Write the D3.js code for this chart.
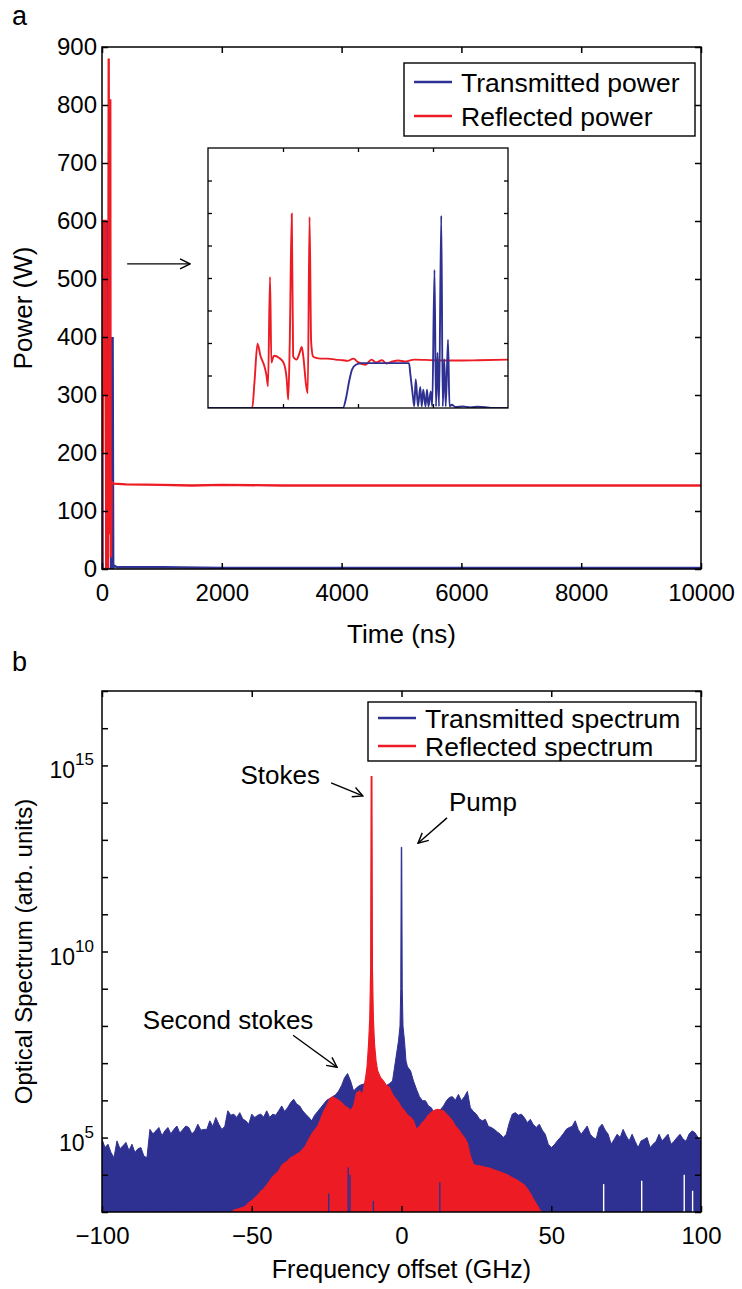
<!DOCTYPE html>
<html>
<head>
<meta charset="utf-8">
<script src="https://cdn.jsdelivr.net/npm/d3@7"></script>
<style>
    body { margin: 0; background: #fff; }
    text { font-family: "Liberation Sans", Arial, Helvetica, sans-serif; fill: #000; }
</style>
</head>
<body>
<div id="chart"></div>
<script>

// ---- panel a : power vs time ----
const timeTicks = [0, 2000, 4000, 6000, 8000, 10000];
const powerTicks = [0, 100, 200, 300, 400, 500, 600, 700, 800, 900];

// [time (ns), power (W)]
const transPower = [[0, 0], [4, 600], [10, 0], [70, 0], [76, 598], [90, 598], [95, 0], [150, 0], [158, 400],
    [168, 80], [178, 400], [188, 0], [200, 6], [250, 3], [500, 3], [1000, 3], [2000, 2], [4000, 2],
    [6000, 2], [8000, 2], [10000, 2]];
const reflPower = [[0, 0], [3, 600], [14, 600], [18, 200], [24, 600], [36, 600], [42, 300], [50, 600],
    [62, 600], [70, 0], [100, 0], [112, 880], [122, 60], [132, 150], [138, 810], [144, 160], [150, 20],
    [160, 150], [200, 147], [400, 146], [1000, 145], [1500, 144], [2000, 145], [3000, 144], [4000, 144],
    [5000, 144], [6000, 144], [7000, 144], [8000, 144], [9000, 144], [10000, 144]];

// inset (no labels), arbitrary units
const insetTimeTicks = [100, 200, 300];
const insetPowerTicks = [100, 200, 300, 400, 500, 600, 700];
const insetRefl = [[0, 0], [59, 0], [62, 80], [66, 198], [70, 160], [75, 130], [78, 100], [80, 67],
    [82.7, 403], [84.5, 140], [86, 150], [88, 161], [95, 154], [101, 138], [105, 87], [107, 26],
    [109, 200], [111.7, 598], [113.5, 159], [118, 149], [122, 169], [125, 188], [127, 160], [131, 67],
    [133, 46], [135.4, 588], [137.5, 205], [140, 159], [144, 154], [150, 152], [160, 152], [170, 149],
    [180, 147], [186, 145], [194, 152], [200, 141], [210, 133], [218, 149], [224, 140], [232, 147],
    [238, 137], [246, 143], [254, 146], [262, 143], [275, 149], [300, 147], [330, 146], [360, 147],
    [400, 149]];
const insetTrans = [[0, 0], [180, 0], [184, 30], [188, 80], [192, 118], [197, 133], [205, 138], [268, 138],
    [270, 100], [273, 40], [275, 5], [277, 89], [280, 5], [283, 65], [285, 5], [287, 56], [290, 5],
    [292, 56], [294, 5], [297, 51], [299, 5], [302, 425], [304, 5], [306, 170], [308, 5], [311, 592],
    [313, 5], [315, 150], [317, 5], [320, 210], [322, 5], [325, 10], [330, 3], [340, 5], [350, 2],
    [360, 4], [372, 2], [380, 0], [400, 0]];

// ---- panel b : spectra, [frequency (GHz), log10 level] ----
const freqTicks = [-100, -50, 0, 50, 100];
const specDecades = d3.range(3, 18);
const specLabelExps = [5, 10, 15];

const transSpectrum = [[-100, 4.96], [-99, 4.73], [-98, 4.82], [-97, 4.6], [-96, 4.46], [-95, 4.91], [-94, 4.7],
    [-93, 4.78], [-92, 4.87], [-91, 4.65], [-90, 4.82], [-89, 4.6], [-88, 4.7], [-87, 4.73], [-86, 4.5],
    [-85, 4.46], [-84, 5.22], [-83, 5.1], [-82, 5.18], [-81, 5.27], [-80, 5.05], [-79, 5.18], [-78, 5.27],
    [-77, 5.1], [-76, 5.22], [-75, 5.31], [-74, 5.12], [-73, 5.22], [-72, 5.31], [-71, 5.27], [-70, 5.1],
    [-69, 5.18], [-68, 5.36], [-67, 5.2], [-66, 5.22], [-65, 5.22], [-64, 5.45], [-63, 5.3], [-62, 5.54],
    [-61, 5.36], [-60, 5.22], [-59, 5.3], [-58, 5.72], [-57, 5.6], [-56, 5.63], [-55, 5.54], [-54, 5.67],
    [-53, 5.5], [-52, 5.45], [-51, 5.36], [-50, 5.63], [-49, 5.54], [-48, 5.6], [-47, 5.63], [-46, 5.55],
    [-45, 5.72], [-44, 5.54], [-43, 5.63], [-42, 5.6], [-41, 5.72], [-40, 5.85], [-39, 5.7], [-38, 5.81],
    [-37, 5.94], [-36, 6.03], [-35, 5.9], [-34, 5.85], [-33, 5.72], [-32, 5.63], [-31, 5.55], [-30, 5.45],
    [-29, 5.6], [-28, 5.7], [-27, 5.8], [-26, 5.9], [-25, 6.0], [-24, 6.05], [-23, 6.1], [-22, 6.15],
    [-21, 6.25], [-20, 6.4], [-19, 6.61], [-18, 6.72], [-17, 6.52], [-16, 6.25], [-15, 6.34], [-14, 6.4],
    [-13, 6.43], [-12, 6.45], [-11, 6.5], [-10, 6.5], [-9, 6.45], [-8, 6.4], [-7, 6.35], [-6, 6.34],
    [-5, 6.4], [-4, 6.45], [-3, 6.52], [-2, 7.06], [-1, 7.6], [-0.5, 8.0], [-0.25, 9.0], [-0.08, 12.8],
    [0.08, 12.8], [0.25, 9.0], [0.5, 8.0], [1, 7.6], [1.5, 7.06], [2, 6.9], [3, 6.8], [4, 6.52], [5, 6.3],
    [6, 6.1], [7, 5.99], [8, 5.99], [9, 5.85], [10, 5.8], [11, 5.63], [12, 5.7], [13, 5.75], [14, 5.85],
    [15, 5.99], [16, 6.08], [17, 6.1], [18, 6.0], [19, 6.16], [20, 5.99], [21, 6.1], [22, 6.24], [23, 5.8],
    [24, 5.7], [25, 5.63], [26, 5.5], [27, 5.45], [28, 5.49], [29, 5.3], [30, 5.27], [31, 5.22], [32, 5.15],
    [33, 5.09], [34, 5.0], [35, 5.09], [36, 5.4], [37, 5.63], [38, 5.67], [39, 5.6], [40, 5.63], [41, 5.54],
    [42, 5.4], [43, 5.49], [44, 5.35], [45, 5.27], [46, 5.36], [47, 5.2], [48, 5.09], [49, 4.82], [50, 4.73],
    [51, 4.8], [52, 4.91], [53, 5.0], [54, 5.1], [55, 5.22], [56, 5.27], [57, 5.3], [58, 5.45], [59, 5.22],
    [60, 5.09], [61, 5.2], [62, 5.31], [63, 5.09], [64, 5.0], [65, 4.96], [66, 5.27], [67, 5.36], [68, 5.2],
    [69, 5.09], [70, 4.82], [71, 4.95], [72, 5.09], [73, 5.0], [74, 5.22], [75, 5.05], [76, 4.91], [77, 5.09],
    [78, 4.9], [79, 4.73], [80, 4.91], [81, 4.95], [82, 5.0], [83, 4.73], [84, 4.82], [85, 4.9], [86, 5.09],
    [87, 4.91], [88, 5.0], [89, 5.09], [90, 4.82], [91, 4.9], [92, 5.0], [93, 5.09], [94, 4.96], [95, 4.9],
    [96, 5.09], [97, 5.18], [98, 5.13], [99, 5.0], [100, 4.91]];

const reflSpectrum = [[-57, 2.9], [-56, 3.05], [-55, 3.07], [-54, 3.1], [-53, 3.12], [-52, 3.16], [-51, 3.25],
    [-50, 3.3], [-49, 3.38], [-48, 3.45], [-47, 3.55], [-46, 3.62], [-45, 3.72], [-44, 3.84], [-43, 3.95],
    [-42, 4.02], [-41, 4.1], [-40, 4.25], [-39, 4.32], [-38, 4.37], [-37, 4.46], [-36, 4.5], [-35, 4.55],
    [-34, 4.6], [-33, 4.68], [-32, 4.78], [-31, 4.95], [-30, 5.09], [-29, 5.2], [-28, 5.3], [-27, 5.49],
    [-26, 5.7], [-25, 5.85], [-24, 6.03], [-23, 6.09], [-22, 6.05], [-21, 6.0], [-20, 5.94], [-19, 5.85],
    [-18, 5.8], [-17, 5.72], [-16, 5.85], [-15, 6.2], [-14, 6.25], [-13, 6.16], [-12, 6.6], [-11.5, 6.9],
    [-11, 7.5], [-10.6, 8.2], [-10.3, 9.5], [-10.12, 14.7], [-9.88, 14.7], [-9.7, 9.5], [-9.4, 8.2],
    [-9, 7.5], [-8.5, 7.06], [-8, 6.8], [-7, 6.61], [-6, 6.52], [-5, 6.4], [-4, 6.34], [-3, 6.16], [-2, 6.05],
    [-1, 5.95], [0, 5.8], [1, 5.72], [2, 5.6], [3, 5.55], [4, 5.45], [5, 5.22], [6, 5.3], [7, 5.4], [8, 5.49],
    [9, 5.6], [10, 5.68], [11, 5.73], [12, 5.76], [13, 5.74], [14, 5.72], [15, 5.63], [16, 5.55], [17, 5.45],
    [18, 5.31], [19, 5.22], [20, 5.1], [21, 5.0], [22, 4.85], [23, 4.5], [24, 4.28], [25, 4.24], [26, 4.24],
    [27, 4.22], [28, 4.2], [29, 4.19], [30, 4.16], [31, 4.13], [32, 4.1], [33, 4.07], [34, 4.04], [35, 4.01],
    [36, 3.97], [37, 3.92], [38, 3.88], [39, 3.83], [40, 3.78], [41, 3.72], [42, 3.62], [43, 3.5], [44, 3.35],
    [45, 3.22], [46, 3.08], [47, 2.95]];

// narrow spots where the trace floor lifts above the axis: [frequency, top of gap (log10)]
const transGaps = [[67.5, 3.75], [80.2, 3.84], [94.4, 4.0], [97.2, 3.57]];
const reflGaps = [[-24.3, 3.5], [-17.8, 4.2], [-17.2, 4.0], [-9.4, 3.3], [12.8, 3.8]];

const BLUE = "#2e3192", RED = "#ed1c24";
const FONT = "'Liberation Sans', Arial, Helvetica, sans-serif";

const svg = d3.select("#chart").append("svg")
    .attr("width", 742)
    .attr("height", 1289);
svg.append("rect").attr("width", 742).attr("height", 1289).attr("fill", "#fff");

let defs = svg.append("defs");
defs.append("marker")
    .attr("id", "arrow")
    .attr("viewBox", "0 0 12 12")
    .attr("refX", 11).attr("refY", 6)
    .attr("markerWidth", 12).attr("markerHeight", 12)
    .attr("markerUnits", "userSpaceOnUse")
    .attr("orient", "auto")
    .append("path")
    .attr("d", "M1,1 L11,6 L1,11")
    .attr("fill", "none")
    .attr("stroke", "#000")
    .attr("stroke-width", 1.4);

// draws box with inward ticks on all four sides
function drawFrame(g, x, y, w, h, xt, yt, opt) {
    let tick = opt.tick;
    let bottom = g.append("g").attr("transform", `translate(0,${h})`)
        .call(d3.axisBottom(x).tickValues(xt).tickSizeInner(-tick).tickSizeOuter(0)
            .tickPadding(opt.xPad || 0).tickFormat(opt.xFormat || ""));
    let top = g.append("g")
        .call(d3.axisTop(x).tickValues(xt).tickSizeInner(-tick).tickSizeOuter(0).tickFormat(""));
    let left = g.append("g")
        .call(d3.axisLeft(y).tickValues(yt).tickSizeInner(-tick).tickSizeOuter(0)
            .tickPadding(opt.yPad || 0).tickFormat(opt.yFormat || ""));
    let right = g.append("g").attr("transform", `translate(${w},0)`)
        .call(d3.axisRight(y).tickValues(yt).tickSizeInner(-tick).tickSizeOuter(0).tickFormat(""));
    [bottom, top, left, right].forEach(a => {
        a.select(".domain").remove();
        a.selectAll("line").attr("stroke", "#000").attr("stroke-width", opt.lw);
        a.attr("font-family", FONT).attr("font-size", opt.fs || 22);
    });
    g.append("rect")
        .attr("width", w).attr("height", h)
        .attr("fill", "none").attr("stroke", "#000").attr("stroke-width", opt.lw);
    return {bottom, left};
}

function drawLegend(g, x, y, w, h, items, rowY) {
    let lg = g.append("g").attr("transform", `translate(${x},${y})`);
    lg.append("rect").attr("width", w).attr("height", h)
        .attr("fill", "#fff").attr("stroke", "#000").attr("stroke-width", 1.4);
    items.forEach((d, i) => {
        lg.append("line")
            .attr("x1", 10).attr("x2", 48)
            .attr("y1", rowY[i]).attr("y2", rowY[i])
            .attr("stroke", d.color).attr("stroke-width", 2.4);
        lg.append("text")
            .attr("x", 57).attr("y", rowY[i])
            .attr("dy", "0.36em")
            .attr("font-size", 26.5)
            .text(d.label);
    });
}

/* ---------- panel a ---------- */
const plotLeft = 102, plotWidth = 599;
const aTop = 47, aHeight = 522;

let ga = svg.append("g").attr("transform", `translate(${plotLeft},${aTop})`);
let xa = d3.scaleLinear().domain([0, 10000]).range([0, plotWidth]);
let ya = d3.scaleLinear().domain([0, 900]).range([aHeight, 0]);

defs.append("clipPath").attr("id", "clipA")
    .append("rect").attr("width", plotWidth).attr("height", aHeight);

let lineA = d3.line().x(d => xa(d[0])).y(d => ya(d[1]));
let linesA = ga.append("g").attr("clip-path", "url(#clipA)");
linesA.append("path").datum(transPower).attr("d", lineA)
    .attr("fill", "none").attr("stroke", BLUE).attr("stroke-width", 2.3);
linesA.append("path").datum(reflPower).attr("d", lineA)
    .attr("fill", "none").attr("stroke", RED).attr("stroke-width", 2.3);

drawFrame(ga, xa, ya, plotWidth, aHeight, timeTicks, powerTicks,
    {tick: 6, lw: 1.5, xPad: 15, yPad: 5, xFormat: d3.format("d"), yFormat: d3.format("d"), fs: 24});

drawLegend(ga, 302, 16, 291, 73,
    [{label: "Transmitted power", color: BLUE}, {label: "Reflected power", color: RED}], [19, 53]);

// arrow towards the inset
ga.append("line")
    .attr("x1", xa(420)).attr("y1", ya(526))
    .attr("x2", xa(1470)).attr("y2", ya(526))
    .attr("stroke", "#000").attr("stroke-width", 1.4)
    .attr("marker-end", "url(#arrow)");

// inset
const insetX = 106, insetY = 101, insetW = 300, insetH = 260;
let gi = ga.append("g").attr("transform", `translate(${insetX},${insetY})`);
gi.append("rect").attr("width", insetW).attr("height", insetH).attr("fill", "#fff");
let xi = d3.scaleLinear().domain([0, 400]).range([0, insetW]);
let yi = d3.scaleLinear().domain([0, 800]).range([insetH, 0]);
defs.append("clipPath").attr("id", "clipI")
    .append("rect").attr("width", insetW).attr("height", insetH);
let lineI = d3.line().curve(d3.curveMonotoneX).x(d => xi(d[0])).y(d => yi(d[1]));
let linesI = gi.append("g").attr("clip-path", "url(#clipI)");
linesI.append("path").datum(insetRefl).attr("d", lineI)
    .attr("fill", "none").attr("stroke", RED).attr("stroke-width", 1.9);
linesI.append("path").datum(insetTrans).attr("d", lineI)
    .attr("fill", "none").attr("stroke", BLUE).attr("stroke-width", 1.9);
drawFrame(gi, xi, yi, insetW, insetH, insetTimeTicks, insetPowerTicks, {tick: 4, lw: 1.3});

ga.append("text")
    .attr("x", plotWidth / 2).attr("y", 596)
    .attr("text-anchor", "middle").attr("font-size", 26)
    .text("Time (ns)");
ga.append("text")
    .attr("transform", `translate(${32 - plotLeft},${aHeight / 2}) rotate(-90)`)
    .attr("text-anchor", "middle").attr("font-size", 26)
    .text("Power (W)");
svg.append("text").attr("x", 12).attr("y", 25).attr("font-size", 27).text("a");

/* ---------- panel b ---------- */
const bTop = 691, bHeight = 521;
let gb = svg.append("g").attr("transform", `translate(${plotLeft},${bTop})`);
let xb = d3.scaleLinear().domain([-100, 100]).range([0, plotWidth]);
let yb = d3.scaleLog().domain([1e3, 1e17]).range([bHeight, 0]);

defs.append("clipPath").attr("id", "clipB")
    .append("rect").attr("width", plotWidth).attr("height", bHeight);

let areaB = d3.area()
    .x(d => xb(d[0]))
    .y0(bHeight)
    .y1(d => yb(Math.pow(10, d[1])));

let specG = gb.append("g").attr("clip-path", "url(#clipB)");
specG.append("path").datum(transSpectrum).attr("d", areaB)
    .attr("fill", BLUE).attr("stroke", BLUE).attr("stroke-width", 1);
specG.selectAll(".tgap").data(transGaps).join("rect")
    .attr("class", "tgap")
    .attr("x", d => xb(d[0]) - 0.7).attr("width", 1.4)
    .attr("y", d => yb(Math.pow(10, d[1])))
    .attr("height", d => bHeight - yb(Math.pow(10, d[1])))
    .attr("fill", "#fff");
specG.append("path").datum(reflSpectrum).attr("d", areaB)
    .attr("fill", RED).attr("stroke", RED).attr("stroke-width", 1.2);
specG.selectAll(".rgap").data(reflGaps).join("rect")
    .attr("class", "rgap")
    .attr("x", d => xb(d[0]) - 0.7).attr("width", 1.4)
    .attr("y", d => yb(Math.pow(10, d[1])))
    .attr("height", d => bHeight - yb(Math.pow(10, d[1])))
    .attr("fill", BLUE);

drawFrame(gb, xb, yb, plotWidth, bHeight, freqTicks, specDecades.map(e => Math.pow(10, e)),
    {tick: 6, lw: 1.5, xPad: 15, xFormat: d3.format("d"), fs: 24});

gb.selectAll(".ylab").data(specLabelExps).join("text")
    .attr("class", "ylab")
    .attr("x", -8)
    .attr("y", d => yb(Math.pow(10, d)) + 13)
    .attr("text-anchor", "end")
    .attr("font-size", 23)
    .each(function (d) {
        let t = d3.select(this);
        t.append("tspan").text("10");
        t.append("tspan").attr("dy", -13).attr("font-size", 17).text(d);
    });

drawLegend(gb, 266, 11, 328, 59,
    [{label: "Transmitted spectrum", color: BLUE}, {label: "Reflected spectrum", color: RED}], [16, 44]);

// annotations, positioned in data units [freq, log10 level]
const annotations = [
    {text: "Stokes", tx: -40.5, ty: 14.75, from: [-23.5, 14.53], to: [-12.9, 14.18]},
    {text: "Pump", tx: 27.2, ty: 14.02, from: [15.2, 13.59], to: [5.5, 12.91]},
    {text: "Second stokes", tx: -57.9, ty: 8.16, from: [-36.2, 7.75], to: [-21.5, 6.89]}
];
annotations.forEach(a => {
    gb.append("text")
        .attr("x", xb(a.tx)).attr("y", yb(Math.pow(10, a.ty)))
        .attr("dy", "0.36em")
        .attr("text-anchor", "middle")
        .attr("font-size", 26)
        .text(a.text);
    gb.append("line")
        .attr("x1", xb(a.from[0])).attr("y1", yb(Math.pow(10, a.from[1])))
        .attr("x2", xb(a.to[0])).attr("y2", yb(Math.pow(10, a.to[1])))
        .attr("stroke", "#000").attr("stroke-width", 1.4)
        .attr("marker-end", "url(#arrow)");
});

gb.append("text")
    .attr("x", plotWidth / 2).attr("y", 587)
    .attr("text-anchor", "middle").attr("font-size", 25)
    .text("Frequency offset (GHz)");
gb.append("text")
    .attr("transform", `translate(${32 - plotLeft},${bHeight / 2}) rotate(-90)`)
    .attr("text-anchor", "middle").attr("font-size", 24)
    .text("Optical Spectrum (arb. units)");
svg.append("text").attr("x", 12).attr("y", 671).attr("font-size", 27).text("b");

</script>
</body>
</html>
